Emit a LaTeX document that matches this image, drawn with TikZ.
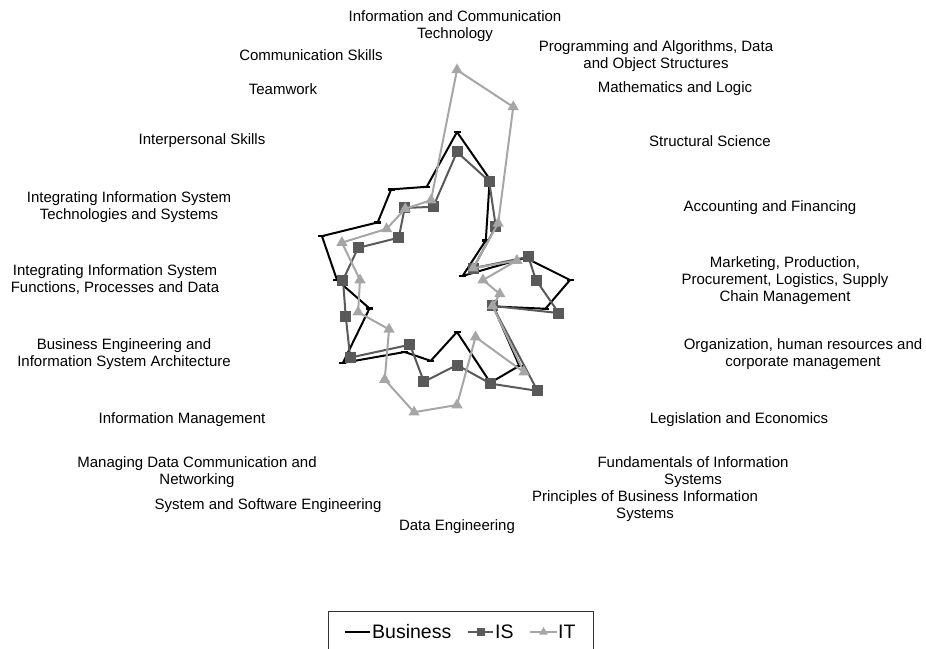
\documentclass[tikz,border=0pt]{standalone}
\usepackage{fontspec}
\setmainfont{Liberation Sans}
\usetikzlibrary{shapes.geometric,calc}

\definecolor{isgray}{HTML}{595959}
\definecolor{itgray}{HTML}{A6A6A6}

\tikzset{
  lab/.style={align=center,inner sep=0pt,font=\fontsize{15}{17}\selectfont},
  legtext/.style={anchor=west,inner sep=0pt,font=\fontsize{19.5}{22}\selectfont},
  busline/.style={draw=black,line width=2pt,line join=round},
  isline/.style={draw=isgray,line width=2pt,line join=round},
  itline/.style={draw=itgray,line width=2pt,line join=round},
  busmark/.style={fill=black,inner sep=0pt,minimum width=7pt,minimum height=2.4pt},
  ismark/.style={fill=isgray,inner sep=0pt,minimum size=11pt},
  itmark/.style={fill=itgray,regular polygon,regular polygon sides=3,inner sep=0pt,minimum size=13pt}
}

\begin{document}
\begin{tikzpicture}[x=1pt,y=1pt]
  \useasboundingbox (-457,-368) rectangle (469,280);

  % series, one radius per axis, clockwise from the top
  \foreach \r [count=\i from 0] in {148,106,49,7,72,113,93,45,106,108,52,85,89,141,92,120,142,98,112,98}
    \coordinate (b\i) at ({90-18*\i}:\r);
  \foreach \r [count=\i from 0] in {128,104,66,20,75,79,107,44,137,109,85,107,80,132,117,114,104,72,89,77}
    \coordinate (s\i) at ({90-18*\i}:\r);
  \foreach \r [count=\i from 0] in {210,182,70,20,63,26,45,44,114,60,125,139,123,84,104,97,121,87,88,84}
    \coordinate (t\i) at ({90-18*\i}:\r);

  \draw[busline] (b0) \foreach \i in {1,...,19} { -- (b\i) } -- cycle;
  \foreach \i in {0,...,19} \node[busmark] at (b\i) {};
  \draw[isline] (s0) \foreach \i in {1,...,19} { -- (s\i) } -- cycle;
  \foreach \i in {0,...,19} \node[ismark] at (s\i) {};
  \draw[itline] (t0) \foreach \i in {1,...,19} { -- (t\i) } -- cycle;
  \foreach \i in {0,...,19} \node[itmark] at (t\i) {};

  % axis labels
  \node[lab] (ict) at (-2,254) {Information and Communication\\Technology};
  \node[lab] (prog) at (199,224) {Programming and Algorithms, Data\\and Object Structures};
  \node[lab] (math) at (218,191) {Mathematics and Logic};
  \node[lab] (struct) at (253,139) {Structural Science};
  \node[lab] (acc) at (313,72) {Accounting and Financing};
  \node[lab] (mark) at (328,-1) {Marketing, Production,\\Procurement, Logistics, Supply\\Chain Management};
  \node[lab] (org) at (346,-74) {Organization, human resources and\\corporate management};
  \node[lab] (leg) at (282,-140) {Legislation and Economics};
  \node[lab] (fund) at (236,-192) {Fundamentals of Information\\Systems};
  \node[lab] (princ) at (188,-226) {Principles of Business Information\\Systems};
  \node[lab] (data) at (0,-247) {Data Engineering};
  \node[lab] (soft) at (-189,-226) {System and Software Engineering};
  \node[lab] (net) at (-260,-192) {Managing Data Communication and\\Networking};
  \node[lab] (infm) at (-275,-140) {Information Management};
  \node[lab] (beng) at (-333,-74) {Business Engineering and\\Information System Architecture};
  \node[lab] (ifun) at (-342,0) {Integrating Information System\\Functions, Processes and Data};
  \node[lab] (itec) at (-328,73) {Integrating Information System\\Technologies and Systems};
  \node[lab] (inter) at (-255,139) {Interpersonal Skills};
  \node[lab] (team) at (-174,191) {Teamwork};
  \node[lab] (comm) at (-146,225) {Communication Skills};

  % legend
  \draw[line width=0.9pt,black!80] (-129,-372) -- (-129,-331) -- (136,-331) -- (136,-372);
  \coordinate (lb1) at (-112,-352); \coordinate (lb2) at (-87,-352);
  \coordinate (ls1) at (11,-352);   \coordinate (ls2) at (36,-352);
  \coordinate (lt1) at (73,-352);   \coordinate (lt2) at (100,-352);
  \draw[busline] (lb1) -- (lb2);
  \node[busmark] at ($(lb1)!0.5!(lb2)$) {};
  \draw[isline] (ls1) -- (ls2);
  \node[ismark,minimum size=8pt] at ($(ls1)!0.5!(ls2)$) {};
  \draw[itline] (lt1) -- (lt2);
  \node[itmark,minimum size=10pt] at ($(lt1)!0.5!(lt2)$) {};
  \node[legtext] (lbus) at (-85,-352) {Business};
  \node[legtext] (lis) at (38,-352) {IS};
  \node[legtext] (lit) at (101,-352) {IT};
\end{tikzpicture}
\end{document}
